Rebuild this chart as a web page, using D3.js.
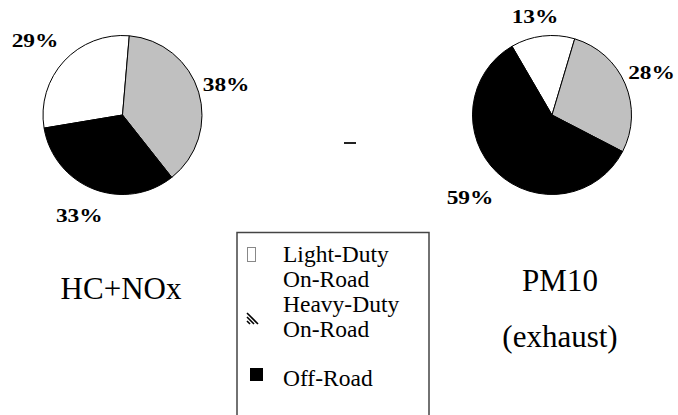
<!DOCTYPE html>
<html><head><meta charset="utf-8">
<script src="https://cdn.jsdelivr.net/npm/d3@7"></script>
<style>
html,body{margin:0;padding:0;background:#fff;}
</style>
</head><body>
<script>
const categories = ["Light-Duty On-Road", "Heavy-Duty On-Road", "Off-Road"];
const legendLines = [["Light-Duty", "On-Road"], ["Heavy-Duty", "On-Road"], ["Off-Road"]];
const hcNoxValues = [29, 38, 33];
const pm10Values = [13, 28, 59];
const chartTitles = [["HC+NOx"], ["PM10", "(exhaust)"]];
const sliceColors = ["#ffffff", "#c0c0c0", "#000000"];

const FONT = "'Liberation Serif', 'Times New Roman', Times, serif";
const W = 678, H = 415;
const svg = d3.select("body").append("svg").attr("width", W).attr("height", H)
  .attr("font-family", FONT);

const R = 79.5;
const pies = [
  {values: hcNoxValues, cx: 122.5, cy: 115, start: -99.5, title: chartTitles[0], tx: 121, ty: 299},
  {values: pm10Values, cx: 552, cy: 115, start: -30.2, title: chartTitles[1], tx: 560, ty: 291}
];

const arc = d3.arc().innerRadius(0).outerRadius(R);
const labelW = 46, labelH = 20, gap = 9;

pies.forEach(p => {
  const rad = p.start * Math.PI / 180;
  const arcs = d3.pie().sort(null).value(d => d.v).startAngle(rad).endAngle(rad + 2 * Math.PI)(p.values.map((v, i) => ({v, i})));
  const g = svg.append("g").attr("transform", `translate(${p.cx},${p.cy})`);
  g.selectAll("path").data(arcs).join("path")
    .attr("d", arc)
    .attr("fill", d => sliceColors[d.data.i])
    .attr("stroke", "#000").attr("stroke-width", 1);
  g.selectAll("text.pct").data(arcs).join("text").attr("class", "pct")
    .attr("transform", d => {
      const m = (d.startAngle + d.endAngle) / 2;
      const s = Math.sin(m), c = -Math.cos(m);
      const off = Math.abs(s) * labelW / 2 + Math.abs(c) * labelH / 2;
      const dist = R + gap + off;
      return `translate(${s * dist - 5},${c * dist + 2}) scale(1.3,1)`;
    })
    .attr("font-family", FONT)
    .attr("text-anchor", "middle").attr("dy", "0.35em")
    .attr("font-size", 18).attr("font-weight", "bold")
    .text(d => d.data.v + "%");
  const t = svg.append("text").attr("x", p.tx).attr("y", p.ty)
    .attr("font-family", FONT)
    .attr("text-anchor", "middle").attr("font-size", 31);
  p.title.forEach((line, i) => {
    t.append("tspan").attr("x", p.tx).attr("y", p.ty + i * 56).text(line);
  });
});

// stray dash
svg.append("rect").attr("x", 344).attr("y", 142).attr("width", 12).attr("height", 2).attr("fill", "#222");

// legend
const lg = svg.append("g");
lg.append("path").attr("d", "M237,420 V232.5 H429 V420")
  .attr("fill", "none").attr("stroke", "#444").attr("stroke-width", 1.5);
const lineY = [[262, 287], [312, 337], [386]];
legendLines.forEach((lines, i) => {
  lines.forEach((ln, j) => {
    lg.append("text").attr("x", 283).attr("y", lineY[i][j]).attr("font-family", FONT)
      .attr("font-size", 23.5).text(ln);
  });
});
// symbols
lg.append("rect").attr("x", 247.5).attr("y", 247.5).attr("width", 8).attr("height", 14)
  .attr("fill", "none").attr("stroke", "#888").attr("stroke-width", 1);
const hatch = [[247, 313, 258, 324], [247, 317, 254, 324], [247, 321, 250, 324]];
hatch.forEach(h => lg.append("line").attr("x1", h[0]).attr("y1", h[1]).attr("x2", h[2]).attr("y2", h[3])
  .attr("stroke", "#000").attr("stroke-width", 1.6));
lg.append("rect").attr("x", 250).attr("y", 368).attr("width", 13).attr("height", 13).attr("fill", "#000");
</script>
</body></html>
